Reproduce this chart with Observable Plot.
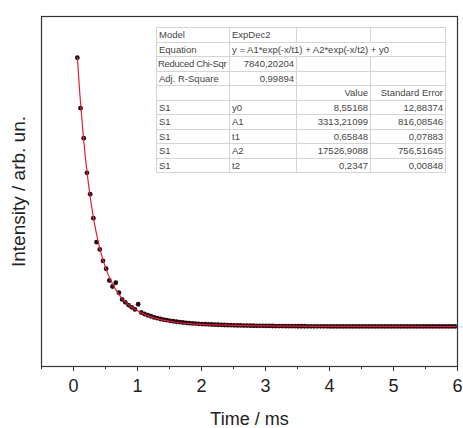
<!DOCTYPE html>
<html>
<head>
<meta charset="utf-8">
<script src="https://cdn.jsdelivr.net/npm/d3@7"></script>
<script src="https://cdn.jsdelivr.net/npm/@observablehq/plot@0.6"></script>
<style>
  body { margin: 0; background: #fff; }
  #wrap { position: relative; width: 463px; height: 428px; font-family: "Liberation Sans", Arial, sans-serif; }
  #fit { position: absolute; left: 156px; top: 27px; width: 289px; border-collapse: collapse; font-size: 9.5px; color: #444;
         background: #fff; border: 1px solid #8a8a8a; table-layout: fixed; }
  #fit td { border: 1px solid #d4d4d4; height: 13.5px; padding: 0 2px; white-space: nowrap; overflow: hidden; line-height: 13px; }
  #fit td.n { text-align: right; }
  #fit td.tight { padding: 0 1px; letter-spacing: -0.3px; }
</style>
</head>
<body>
<div id="wrap"></div>
<script>
// measured decay (Time / ms , Intensity / arb. un.)
const time = [0.06,0.11,0.16,0.21,0.26,0.31,0.36,0.41,0.46,0.51,0.56,0.61,0.66,0.71,0.76,
  0.81,0.86,0.91,0.96,1.01,1.06,1.11,1.16,1.21,1.26,1.31,1.36,1.41,1.46,1.51,1.56,1.61,1.66,1.71,1.76,1.81,1.86,1.91,1.96,
  2.01,2.06,2.11,2.16,2.21,2.26,2.31,2.36,2.41,2.46,2.51,2.56,2.61,2.66,2.71,2.76,2.81,2.86,2.91,2.96,
  3.01,3.06,3.11,3.16,3.21,3.26,3.31,3.36,3.41,3.46,3.51,3.56,3.61,3.66,3.71,3.76,3.81,3.86,3.91,3.96,
  4.01,4.06,4.11,4.16,4.21,4.26,4.31,4.36,4.41,4.46,4.51,4.56,4.61,4.66,4.71,4.76,4.81,4.86,4.91,4.96,
  5.01,5.06,5.11,5.16,5.21,5.26,5.31,5.36,5.41,5.46,5.51,5.56,5.61,5.66,5.71,5.76,5.81,5.86,5.91,5.96];
const intensity = [16585,13476,11625,9490,8170,6690,5210,4760,4060,3570,2845,2475,2705,2088,1675,
  1500,1330,1190,1060,1380,870,780,700,640,570,520,470,430,395,360,330,300,280,255,235,215,200,185,170,
  160,150,140,130,122,115,105,100,92,88,82,76,72,66,62,60,55,52,48,46,
  43,40,38,36,34,32,30,28,27,26,24,23,22,21,20,19,18,17,17,16,
  15,15,14,14,13,13,12,12,12,11,11,11,11,10,10,10,10,10,10,10,
  9,10,9,9,10,9,9,9,9,10,9,9,9,9,9,9,9,9,9,9];

// ExpDec2 fit curve
const fitTime = [0.06,0.1,0.15,0.2,0.25,0.3,0.35,0.4,0.5,0.6,0.7,0.8,0.9,1.0,1.2,1.4,1.6,1.8,2.0,2.5,3.0,3.5,4.0,4.5,5.0,5.5,6.0];
const fitIntensity = [16600,14300,11900,9930,8320,6990,5900,5000,3640,2700,2040,1570,1230,983,620,400,270,190,140,80,43,25,16,12,10,9,9];

const majorTicks = [0,1,2,3,4,5,6];
const minorTicks = [-0.5,0.5,1.5,2.5,3.5,4.5,5.5];

// fit report table
const tableRows = [
  ["Model", "ExpDec2"],
  ["Equation", "y = A1*exp(-x/t1) + A2*exp(-x/t2) + y0"],
  ["Reduced Chi-Sqr", "7840,20204"],
  ["Adj. R-Square", "0,99894"],
  ["", "", "Value", "Standard Error"],
  ["S1", "y0", "8,55168", "12,88374"],
  ["S1", "A1", "3313,21099", "816,08546"],
  ["S1", "t1", "0,65848", "0,07883"],
  ["S1", "A2", "17526,9088", "756,51645"],
  ["S1", "t2", "0,2347", "0,00848"]
];

const pts = time.map((t, i) => ({t, v: intensity[i]}));
const fit = fitTime.map((t, i) => ({t, v: fitIntensity[i]}));

const chart = Plot.plot({
  width: 463,
  height: 428,
  marginLeft: 41,
  marginRight: 6,
  marginTop: 16,
  marginBottom: 62,
  style: {fontFamily: "'Liberation Sans', Arial, sans-serif", fontSize: "18px", color: "#222", background: "#fff"},
  x: {domain: [-0.5, 6]},
  y: {domain: [-2460, 19130]},
  marks: [
    Plot.axisY({ticks: [], label: "Intensity / arb. un.", labelAnchor: "center", labelArrow: "none", labelOffset: 30, fontSize: 19}),
    Plot.axisX({ticks: minorTicks, tickSize: 3, tickFormat: () => "", label: null, stroke: "#333"}),
    Plot.axisX({ticks: majorTicks, tickSize: 5, tickPadding: 8, tickFormat: d3.format("d"), label: "Time / ms", labelAnchor: "center", labelArrow: "none", labelOffset: 58, fontSize: 18, stroke: "#333"}),
    Plot.dot(pts, {x: "t", y: "v", r: 2.4, fill: "#2a0a10", stroke: "none"}),
    Plot.line(fit, {x: "t", y: "v", stroke: "#dc1f3f", strokeWidth: 1.2, curve: "monotone-x"}),
    Plot.frame({stroke: "#333", strokeWidth: 1.2})
  ]
});

const wrap = document.getElementById("wrap");
wrap.appendChild(chart);

const colW = [73, 67, 74, 75];
const table = document.createElement("table");
table.id = "fit";
const cg = document.createElement("colgroup");
colW.forEach(w => { const c = document.createElement("col"); c.style.width = w + "px"; cg.appendChild(c); });
table.appendChild(cg);
tableRows.forEach((row, ri) => {
  const tr = document.createElement("tr");
  if (ri < 4) {
    const a = document.createElement("td"); a.textContent = row[0];
    if (ri === 2) a.className = "tight";
    tr.appendChild(a);
    const b = document.createElement("td"); b.textContent = row[1];
    if (ri === 1) { b.colSpan = 3; }
    else { if (ri >= 2) b.className = "n"; }
    tr.appendChild(b);
    if (ri !== 1) { tr.appendChild(document.createElement("td")); tr.appendChild(document.createElement("td")); }
  } else {
    row.forEach((c, ci) => { const d = document.createElement("td"); d.textContent = c; if (ci >= 2) d.className = "n"; tr.appendChild(d); });
  }
  table.appendChild(tr);
});
wrap.appendChild(table);
</script>
</body>
</html>
